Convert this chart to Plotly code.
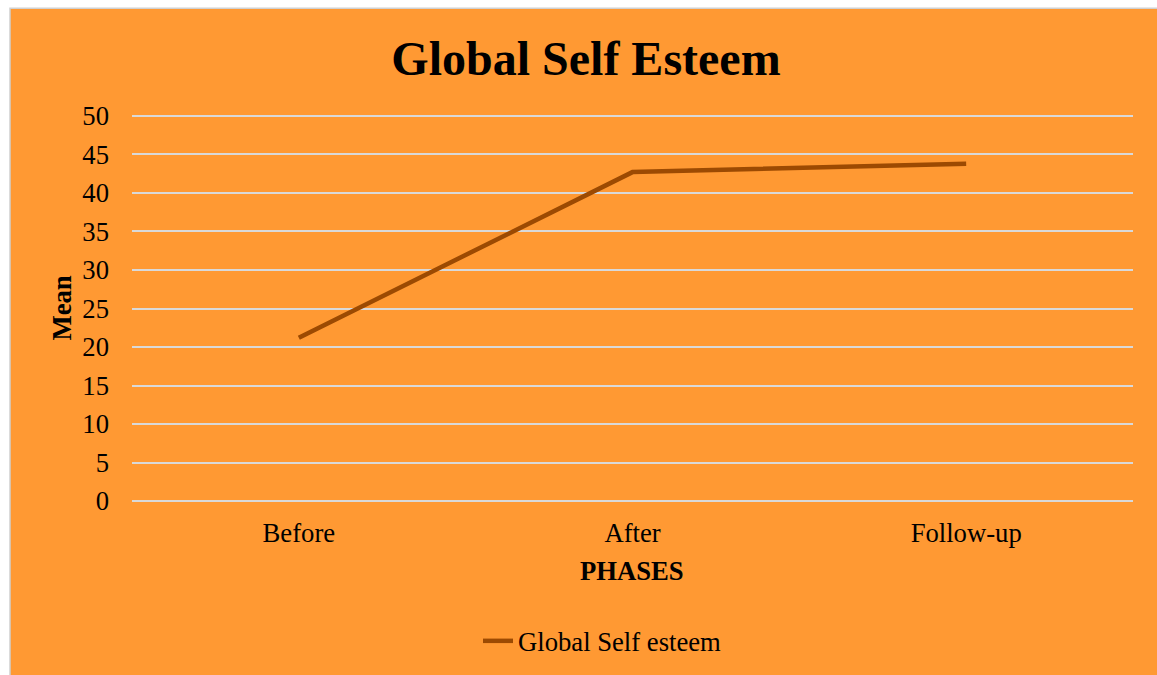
import plotly.graph_objects as go

# Mean global self-esteem score per study phase
phases = ["Before", "After", "Follow-up"]
mean_scores = [21.2, 42.7, 43.8]
y_ticks = [0, 5, 10, 15, 20, 25, 30, 35, 40, 45, 50]

W, H = 1157, 675
# y range padded by half a unit so the 0 and 50 gridlines are drawn
Y_MIN, Y_MAX = -0.5, 50.5
L, R, T, B = 132, 24, 112, 169
plot_w, plot_h = W - L - R, H - T - B

ORANGE = "#FF9933"
LINE = "#9C4A02"
GRID = "#D9D9D9"
FONT = "Liberation Serif, Times New Roman, serif"
FS = 26.67


def px_x(p):
    return (p - L) / plot_w


def px_y(p):
    return (H - B - p) / plot_h


fig = go.Figure()
fig.add_trace(go.Scatter(
    x=phases, y=mean_scores, mode="lines", name="Global Self esteem",
    line=dict(color=LINE, width=4.5),
))

fig.update_layout(
    width=W, height=H,
    margin=dict(l=L, r=R, t=T, b=B),
    paper_bgcolor="white",
    plot_bgcolor="rgba(0,0,0,0)",
    font=dict(family=FONT, size=FS, color="black"),
    title=dict(
        text="<b>Global Self Esteem</b>",
        font=dict(family=FONT, size=48, color="black"),
        x=586 / W, xanchor="center",
        y=1 - 58 / H, yanchor="middle",
    ),
    showlegend=True,
    legend=dict(
        orientation="h", x=px_x(478), xanchor="left",
        y=px_y(641), yanchor="middle",
        font=dict(family=FONT, size=FS),
        bgcolor="rgba(0,0,0,0)",
    ),
    xaxis=dict(
        type="category", range=[-0.5, 2.5],
        showgrid=False, zeroline=False, showline=False,
        ticks="", ticklabelstandoff=9,
        tickfont=dict(family=FONT, size=FS),
    ),
    yaxis=dict(
        range=[Y_MIN, Y_MAX], tickvals=y_ticks,
        showgrid=True, gridcolor=GRID, gridwidth=1.5,
        zeroline=False, showline=False,
        ticks="", ticklabelstandoff=22,
        tickfont=dict(family=FONT, size=FS),
    ),
    shapes=[
        dict(type="rect", xref="paper", yref="paper", layer="below",
             x0=px_x(10), x1=px_x(W + 5), y0=px_y(H + 5), y1=px_y(8),
             fillcolor=ORANGE, line=dict(color="#D0D0D0", width=1.5)),
    ],
    annotations=[
        dict(text="<b>Mean</b>", xref="paper", yref="paper",
             x=px_x(61), y=px_y(309), textangle=-90, showarrow=False,
             font=dict(family=FONT, size=FS), xanchor="center", yanchor="middle"),
        dict(text="<b>PHASES</b>", xref="paper", yref="paper",
             x=px_x(632), y=px_y(572), showarrow=False,
             font=dict(family=FONT, size=FS), xanchor="center", yanchor="middle"),
    ],
)

fig.write_html("out.html")
